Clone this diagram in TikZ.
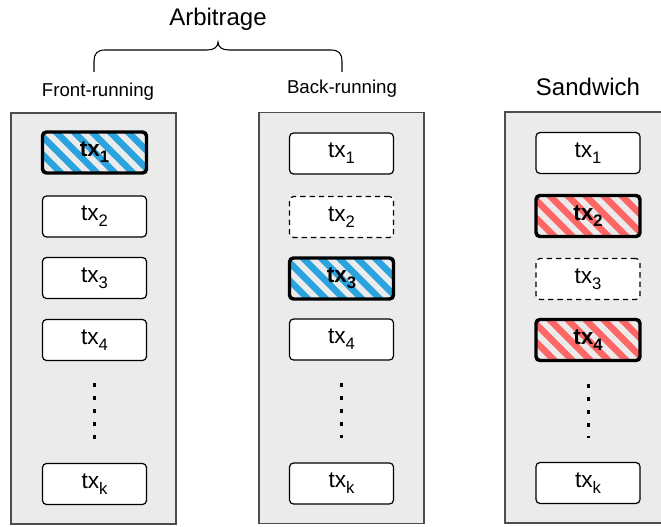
\documentclass[tikz,border=0pt]{standalone}
\usepackage{fontspec}
\setmainfont{Liberation Sans}
\usetikzlibrary{positioning, calc}

\definecolor{colfill}{HTML}{EBEBEB}
\definecolor{colline}{HTML}{4D4D4D}
\definecolor{hatchblue}{HTML}{2AA3DE}
\definecolor{hatchred}{HTML}{FF6666}

\newcommand{\txi}[1]{tx\raisebox{-4.5pt}{\fontsize{12.5}{12.5}\selectfont #1}}

\begin{document}
\begin{tikzpicture}[
        x=0.75pt, y=-0.75pt,
        col/.style={rectangle, draw=colline, line width=1.1pt, fill=colfill, minimum width=123.75pt, minimum height=308.25pt, inner sep=0pt},
        txbox/.style={rectangle, rounded corners=3pt, draw=black, line width=0.9pt, fill=white, minimum width=78pt, minimum height=30.75pt, inner sep=0pt, font=\fontsize{17}{17}\selectfont},
        gone/.style={txbox, dashed, dash pattern=on 4pt off 3pt},
        hit/.style={txbox, fill=none, line width=2.6pt, font=\fontsize{17}{17}\selectfont\bfseries,
            path picture={
                \foreach \k in {-5,...,5}
                    \draw[line width=5pt, #1] ([xshift=\k*13.5pt-30pt, yshift=30pt]path picture bounding box.center) -- ++(60pt,-60pt);
            }},
        dots/.style={line width=2.25pt, dash pattern=on 3pt off 6.75pt},
        bracket/.style={line width=0.8pt},
        head/.style={anchor=base, font=\fontsize{14}{14}\selectfont},
        bighead/.style={anchor=base, font=\fontsize{18}{18}\selectfont}
    ]
        \useasboundingbox (0,0) rectangle (661,527);
        \clip (0,0) rectangle (661,527);

        \node[col] (frcol) at (93.5,318.5) {};
        \node[col] (brcol) at (341.5,318) {};
        \node[col] (swcol) at (587.5,317.5) {};

        \node[bighead] (arblabel) at (218,26) {Arbitrage};
        \node[head] (frlabel) at (98,97) {Front-running};
        \node[head] (brlabel) at (342,94) {Back-running};
        \node[bighead] (swlabel) at (588,96) {Sandwich};

        \coordinate (armL) at (94,72);
        \coordinate (armR) at (342,72);
        \coordinate (tip) at (218,42);
        \draw[bracket] (armL) -- (94,61) .. controls (94,54) and (97,50) .. (105,50) -- (207,50) .. controls (214,50) and (218,47) .. (tip)
            .. controls (218,47) and (222,50) .. (229,50) -- (331,50) .. controls (339,50) and (342,54) .. (342,61) -- (armR);

        \node[hit=hatchblue] (fr1) at (94.5,152.5) {\txi{1}};
        \node[txbox] (fr2) at (94.5,216.5) {\txi{2}};
        \node[txbox] (fr3) at (94.5,278) {\txi{3}};
        \node[txbox] (fr4) at (94.5,340) {\txi{4}};
        \node[txbox] (frk) at (94.5,484) {\txi{k}};
        \draw[dots] ([yshift=-16.5pt]fr4.south) -- ([yshift=18pt]frk.north);

        \node[txbox] (br1) at (341.5,153.5) {\txi{1}};
        \node[gone] (br2) at (341.5,217) {\txi{2}};
        \node[hit=hatchblue] (br3) at (341.5,278.5) {\txi{3}};
        \node[txbox] (br4) at (341.5,339.5) {\txi{4}};
        \node[txbox] (brk) at (341.5,483.5) {\txi{k}};
        \draw[dots] ([yshift=-16.5pt]br4.south) -- ([yshift=18pt]brk.north);

        \node[txbox] (sw1) at (588,153) {\txi{1}};
        \node[hit=hatchred] (sw2) at (588,216) {\txi{2}};
        \node[gone] (sw3) at (588,279) {\txi{3}};
        \node[hit=hatchred] (sw4) at (588,340) {\txi{4}};
        \node[txbox] (swk) at (588,483) {\txi{k}};
        \draw[dots] ([yshift=-16.5pt]sw4.south) -- ([yshift=18pt]swk.north);
    \end{tikzpicture}
\end{document}
